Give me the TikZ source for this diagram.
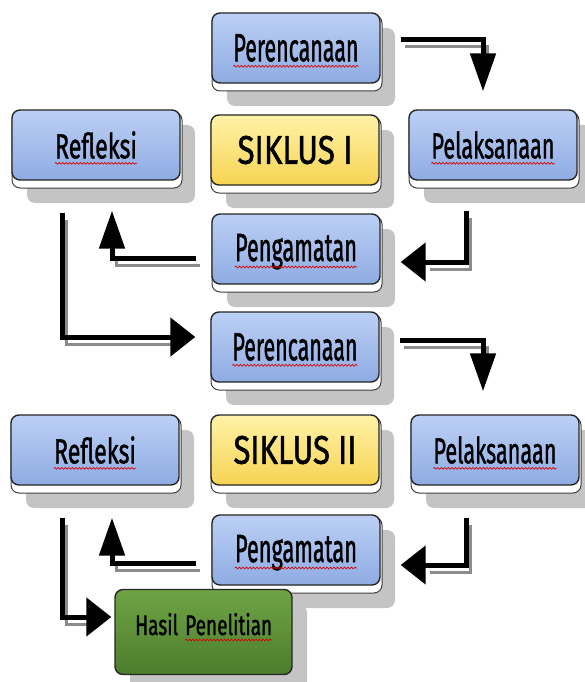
\documentclass[tikz,border=0pt]{standalone}
\usepackage{fontspec}
\setmainfont{Fira Sans}
\newfontfamily\lblfont{Fira Sans}[FakeBold=1.4]
\usepackage{graphicx}
\usetikzlibrary{arrows.meta,calc,decorations.pathmorphing}
\definecolor{blueT}{HTML}{BCD0F5}
\definecolor{blueB}{HTML}{8EABE2}
\definecolor{yelT}{HTML}{FFF2A8}
\definecolor{yelB}{HTML}{F6D352}
\definecolor{grnT}{HTML}{6FA445}
\definecolor{grnB}{HTML}{4C7D2C}
\definecolor{shad}{HTML}{C4C4C4}
\tikzset{
  boxbase/.style={draw=black!85, line width=1.4pt, rounded corners=8pt,
    minimum width=168pt, minimum height=70pt, inner sep=0pt},
  bluebox/.style={boxbase, top color=blueT, bottom color=blueB},
  yelbox/.style={boxbase, top color=yelT, bottom color=yelB},
  grnbox/.style={boxbase, top color=grnT, bottom color=grnB, minimum width=177pt, minimum height=85pt},
  lbl/.style={inner sep=0pt, text=black, font=\lblfont},
  squig/.style={draw=red!85!black, line width=0.7pt,
    decorate, decoration={snake, segment length=3.5pt, amplitude=0.9pt}},
  arr/.style={line width=5pt, draw=black},
  vtip/.style={-{Triangle[length=38pt,width=25pt]}},
  htip/.style={-{Triangle[length=25pt,width=38pt]}},
  arrsh/.style={line width=3pt, draw=black!45, transform canvas={shift={(4pt,-7pt)}}},
}
\begin{document}
\begin{tikzpicture}[x=1pt,y=-1pt]
\useasboundingbox (0,0) rectangle (585,682);
% shadows
\foreach \cx/\cy in {296/48, 96/145, 295/150, 493/145, 296/249, 295/347, 95/450, 295/450, 495/450, 296/550}{
  \fill[shad, rounded corners=8pt] (\cx-84+15, \cy-35+15) rectangle (\cx+84+15, \cy+35+8+15);
}
\fill[shad, rounded corners=8pt] (203.5-88.5+15, 632-42.5+15) rectangle (203.5+88.5+15, 632+42.5+15);
% white under-layers
\foreach \cx/\cy in {296/48, 96/145, 295/150, 493/145, 296/249, 295/347, 95/450, 295/450, 495/450, 296/550}{
  \draw[fill=white, draw=black!75, line width=1pt, rounded corners=8pt] (\cx-84, \cy-35+2) rectangle (\cx+84+2, \cy+35+8);
}
% boxes
\node[bluebox] (P1) at (296,48) {};
\node[bluebox] (R1) at (96,145) {};
\node[yelbox]  (S1) at (295,150) {};
\node[bluebox] (L1) at (493,145) {};
\node[bluebox] (G1) at (296,249) {};
\node[bluebox] (P2) at (295,347) {};
\node[bluebox] (R2) at (95,450) {};
\node[yelbox]  (S2) at (295,450) {};
\node[bluebox] (L2) at (495,450) {};
\node[bluebox] (G2) at (296,550) {};
\node[grnbox]  (H)  at (203.5,632) {};
% labels
\node[lbl] (P1t) at (P1) {\resizebox{125pt}{27pt}{Perencanaan}};
\node[lbl] (R1t) at (R1) {\resizebox{82pt}{27pt}{Refleksi}};
\node[lbl] (S1t) at (S1) {\resizebox{115pt}{28pt}{SIKLUS I}};
\node[lbl] (L1t) at (L1) {\resizebox{123pt}{27pt}{Pelaksanaan}};
\node[lbl, anchor=base] (G1t) at ($(G1.center)+(0,12)$) {\resizebox{122pt}{27pt}{Pengamatan}};
\node[lbl] (P2t) at (P2) {\resizebox{125pt}{27pt}{Perencanaan}};
\node[lbl] (R2t) at (R2) {\resizebox{82pt}{27pt}{Refleksi}};
\node[lbl] (S2t) at (S2) {\resizebox{123pt}{28pt}{SIKLUS II}};
\node[lbl] (L2t) at (L2) {\resizebox{123pt}{27pt}{Pelaksanaan}};
\node[lbl, anchor=base] (G2t) at ($(G2.center)+(0,12)$) {\resizebox{122pt}{27pt}{Pengamatan}};
\node[lbl, anchor=base west] (H1t) at ($(H.center)+(-68.5,3)$) {\resizebox{43pt}{22pt}{Hasil}};
\node[lbl, anchor=base west] (H2t) at ($(H.center)+(-18.5,3)$) {\resizebox{87pt}{22pt}{Penelitian}};
% squiggles
\foreach \t in {P1t,R1t,L1t,P2t,R2t,L2t}{
  \draw[squig] ($(\t.base west)+(0,5)$) -- ($(\t.base east)+(0,5)$);
}
\foreach \t in {G1t,G2t}{
  \draw[squig] ($(\t.base west)+(0,6)$) -- ($(\t.base east)+(0,6)$);
}
\draw[squig] ($(H2t.base west)+(0,5)$) -- ($(H2t.base east)+(0,5)$);
% connector end points
\coordinate (a1s) at ($(P1.east)+(20,-8)$);
\coordinate (a1e) at ($(L1.north)+(-10,-18)$);
\coordinate (a2s) at ($(L1.south)+(-27,30)$);
\coordinate (a2e) at ($(G1.east)+(20,13)$);
\coordinate (a3s) at ($(G1.west)+(-15,9)$);
\coordinate (a3e) at ($(R1.south)+(16,30)$);
\coordinate (a4s) at ($(R1.south)+(-34,32)$);
\coordinate (a4e) at ($(P2.west)+(-15,-10)$);
\coordinate (a5s) at ($(P2.east)+(20,-7)$);
\coordinate (a5e) at ($(L2.north)+(-12,-23)$);
\coordinate (a6s) at ($(L2.south)+(-29,32)$);
\coordinate (a6e) at ($(G2.east)+(20,15)$);
\coordinate (a7s) at ($(G2.west)+(-15,13)$);
\coordinate (a7e) at ($(R2.south)+(17,32)$);
\coordinate (a8s) at ($(R2.south)+(-33,32)$);
\coordinate (a8e) at ($(H.west)+(-3,-15)$);
% shadow lines
\draw[arrsh, shorten >=38pt] (a1s) -| (a1e);
\draw[arrsh, shorten >=25pt] (a2s) |- (a2e);
\draw[arrsh, shorten >=38pt] (a3s) -| (a3e);
\draw[arrsh, shorten >=25pt] (a4s) |- (a4e);
\draw[arrsh, shorten >=38pt] (a5s) -| (a5e);
\draw[arrsh, shorten >=25pt] (a6s) |- (a6e);
\draw[arrsh, shorten >=38pt] (a7s) -| (a7e);
\draw[arrsh, shorten >=25pt] (a8s) |- (a8e);
% arrows
\draw[arr, vtip] (a1s) -| (a1e);
\draw[arr, htip] (a2s) |- (a2e);
\draw[arr, vtip] (a3s) -| (a3e);
\draw[arr, htip] (a4s) |- (a4e);
\draw[arr, vtip] (a5s) -| (a5e);
\draw[arr, htip] (a6s) |- (a6e);
\draw[arr, vtip] (a7s) -| (a7e);
\draw[arr, htip] (a8s) |- (a8e);
\end{tikzpicture}
\end{document}
